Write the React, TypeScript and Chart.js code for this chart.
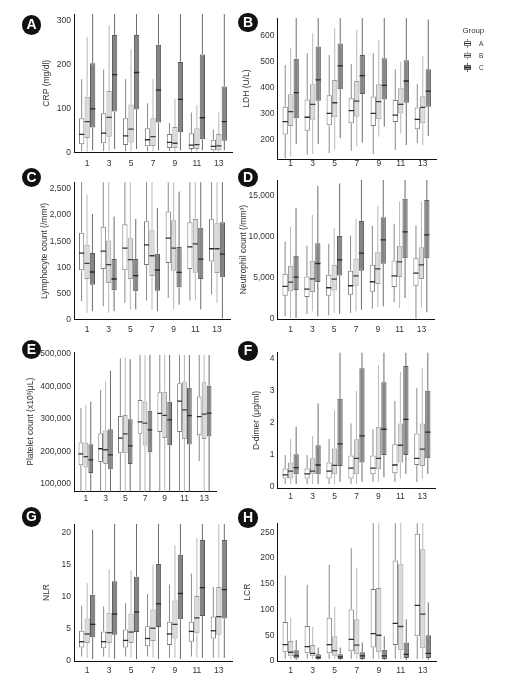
import React, { useEffect, useRef } from 'react';
import { Chart, registerables } from 'chart.js';

Chart.register(...registerables);

const FONT = "'Liberation Sans', Arial, Helvetica, sans-serif";
const FS = 8.5;

const days = ['1', '3', '5', '7', '9', '11', '13'];
const groupNames = ['A', 'B', 'C'];

// each entry: [lower whisker, Q1, median, Q3, upper whisker]
const crpA = [[3, 19, 41, 78, 167], [3, 21, 44, 89, 189], [3, 17, 38, 78, 167], [3, 14, 29, 55, 112], [3, 10, 23, 42, 67], [2, 8, 17, 44, 91], [2, 5, 14, 29, 52]];
const crpB = [[2, 33, 70, 127, 263], [3, 36, 80, 140, 289], [3, 23, 53, 109, 235], [3, 15, 36, 78, 167], [2, 10, 21, 58, 123], [2, 8, 18, 55, 108], [2, 5, 15, 42, 91]];
const crpC = [[5, 57, 99, 203, 340], [8, 93, 177, 267, 340], [8, 98, 182, 267, 340], [5, 68, 142, 245, 340], [5, 46, 121, 206, 340], [5, 30, 79, 223, 340], [5, 27, 70, 150, 340]];

const ldhA = [[127, 219, 268, 326, 487], [140, 233, 285, 354, 532], [146, 254, 300, 370, 525], [156, 262, 311, 358, 491], [143, 251, 300, 365, 532], [159, 267, 293, 352, 470], [185, 239, 277, 323, 413]];
const ldhB = [[133, 251, 307, 374, 551], [143, 275, 335, 412, 609], [161, 285, 341, 429, 628], [172, 287, 347, 425, 622], [210, 277, 345, 412, 583], [223, 300, 335, 397, 500], [178, 262, 323, 366, 523]];
const ldhC = [[182, 281, 380, 511, 690], [182, 349, 429, 558, 690], [204, 393, 483, 570, 690], [187, 375, 446, 525, 690], [249, 354, 408, 513, 690], [178, 341, 425, 505, 690], [213, 326, 386, 470, 663]];

const lymA = [[350, 941, 1272, 1660, 2700], [254, 967, 1310, 1775, 2700], [318, 941, 1368, 1826, 2700], [363, 1043, 1431, 1883, 2700], [413, 1081, 1558, 2067, 2700], [363, 967, 1393, 1864, 2700], [477, 1113, 1355, 1921, 2700]];
const lymB = [[127, 776, 1075, 1431, 2398], [127, 700, 1050, 1514, 2700], [191, 776, 1145, 1558, 2700], [191, 833, 1221, 1711, 2700], [191, 935, 1368, 1902, 2700], [363, 897, 1450, 1927, 2700], [318, 890, 1355, 1845, 2700]];
const lymC = [[159, 668, 910, 1272, 2023], [159, 560, 776, 1158, 1972], [191, 541, 840, 1158, 1927], [159, 553, 948, 1260, 2131], [286, 617, 903, 1387, 2449], [191, 776, 1158, 1756, 2700], [19, 808, 1253, 1864, 2700]];

const neuA = [[324, 2838, 3973, 5514, 9446], [608, 2676, 3649, 5189, 8919], [446, 2838, 3811, 5392, 9162], [730, 2959, 4054, 5878, 10176], [1257, 3324, 4540, 6608, 11351], [2027, 3892, 5270, 7135, 11595], [40, 4054, 5595, 7419, 11392]];
const neuB = [[122, 3365, 4500, 6486, 11230], [932, 3284, 4905, 7095, 12690], [730, 3486, 4865, 6608, 11068], [932, 4054, 5270, 7378, 12203], [1459, 4257, 6122, 8149, 13784], [1338, 5108, 6973, 8919, 14311], [1338, 4865, 6608, 8757, 14311]];
const neuC = [[122, 3527, 5108, 7703, 13500], [324, 4500, 6770, 9243, 16216], [608, 5311, 7216, 10135, 16540], [1135, 5878, 8027, 11960, 18000], [1540, 6730, 9649, 12405, 18000], [2554, 7419, 10622, 14676, 18000], [811, 7419, 10257, 14514, 18000]];

const pltA = [[60000, 157000, 192000, 227000, 333000], [60000, 167000, 208000, 256000, 389000], [60000, 194000, 241000, 309000, 487000], [60000, 254000, 291000, 358000, 497000], [60000, 260000, 317000, 382000, 497000], [60000, 260000, 355000, 410000, 497000], [170000, 250000, 307000, 369000, 497000]];
const pltB = [[60000, 150000, 184000, 227000, 343000], [60000, 161000, 205000, 264000, 415000], [60000, 194000, 254000, 312000, 489000], [60000, 218000, 287000, 354000, 497000], [60000, 241000, 311000, 384000, 497000], [60000, 238000, 328000, 415000, 497000], [60000, 238000, 315000, 413000, 497000]];
const pltC = [[60000, 133000, 174000, 222000, 353000], [60000, 145000, 189000, 268000, 448000], [60000, 161000, 217000, 299000, 484000], [60000, 197000, 266000, 325000, 497000], [60000, 219000, 297000, 353000, 497000], [60000, 221000, 310000, 396000, 497000], [60000, 246000, 318000, 402000, 497000]];

const ddA = [[0.08, 0.26, 0.37, 0.57, 0.99], [0.08, 0.26, 0.4, 0.57, 0.99], [0.08, 0.26, 0.49, 0.76, 1.5], [0.08, 0.26, 0.58, 0.98, 1.98], [0.15, 0.39, 0.58, 0.98, 1.8], [0.15, 0.42, 0.68, 1.33, 2.69], [0.15, 0.68, 0.89, 1.67, 3.1]];
const ddB = [[0.08, 0.26, 0.49, 0.76, 1.5], [0.08, 0.39, 0.49, 0.89, 1.59], [0.08, 0.39, 0.67, 1.2, 2.4], [0.08, 0.39, 0.89, 1.49, 3.0], [0.15, 0.55, 0.89, 1.88, 3.81], [0.25, 0.76, 1.3, 1.98, 3.6], [0.25, 0.65, 1.18, 1.98, 3.71]];
const ddC = [[0.08, 0.39, 0.6, 1.02, 1.88], [0.08, 0.39, 0.68, 1.3, 2.61], [0.15, 0.65, 1.34, 2.76, 4.5], [0.15, 0.76, 1.59, 3.71, 4.5], [0.3, 0.99, 1.8, 3.27, 4.5], [0.4, 0.99, 2.11, 3.78, 4.5], [0.4, 0.89, 1.71, 3.01, 4.5]];

const nlrA = [[0.7, 2.1, 3.0, 4.7, 8.6], [0.7, 2.0, 3.0, 4.6, 8.5], [0.7, 2.1, 3.2, 4.9, 9.0], [0.7, 2.3, 3.5, 5.4, 10.4], [0.5, 2.5, 4.2, 6.1, 11.9], [0.7, 3.0, 4.6, 6.1, 13.6], [0.5, 3.5, 4.7, 6.9, 11.5]];
const nlrB = [[0.5, 2.8, 4.2, 6.6, 12.1], [0.5, 2.8, 4.4, 7.5, 14.3], [0.5, 2.8, 4.5, 7.4, 14.1], [0.5, 3.1, 5.1, 8.0, 15.0], [0.5, 3.5, 5.7, 9.4, 18.0], [0.5, 4.3, 6.7, 10.1, 19.1], [0.5, 4.1, 6.9, 11.5, 22]];
const nlrC = [[0.3, 3.7, 5.7, 10.3, 20.4], [0.3, 4.1, 7.3, 12.4, 22], [0.3, 4.5, 7.6, 13.1, 22], [0.3, 5.3, 8.9, 15.1, 22], [0.3, 6.5, 10.5, 16.5, 22], [0.5, 7.0, 11.4, 18.8, 22], [0.5, 6.6, 11.1, 18.8, 22]];

const lcrA = [[4, 17, 32, 76, 166], [4, 15, 28, 68, 148], [4, 15, 32, 84, 187], [4, 19, 42, 100, 219], [4, 26, 53, 140, 280], [4, 31, 73, 195, 280], [4, 48, 108, 247, 280]];
const lcrB = [[4, 9, 17, 39, 84], [4, 9, 15, 31, 66], [4, 10, 20, 48, 105], [4, 13, 31, 81, 181], [4, 17, 50, 142, 280], [4, 21, 67, 188, 280], [4, 25, 91, 217, 280]];
const lcrC = [[2, 5, 10, 21, 41], [2, 4, 7, 13, 26], [2, 4, 8, 13, 26], [2, 4, 10, 17, 36], [2, 4, 10, 22, 48], [2, 6, 13, 36, 81], [2, 6, 15, 50, 114]];

const crpTicks = [0, 100, 200, 300];
const crpTickLabels = ['0', '100', '200', '300'];
const ldhTicks = [200, 300, 400, 500, 600];
const ldhTickLabels = ['200', '300', '400', '500', '600'];
const lymTicks = [0, 500, 1000, 1500, 2000, 2500];
const lymTickLabels = ['0', '500', '100', '1,500', '2,000', '2,500'];
const neuTicks = [0, 5000, 10000, 15000];
const neuTickLabels = ['0', '5,000', '10,000', '15,000'];
const pltTicks = [100000, 200000, 300000, 400000, 500000];
const pltTickLabels = ['100,000', '200,000', '300,000', '400,000', '500,000'];
const ddTicks = [0, 1, 2, 3, 4];
const ddTickLabels = ['0', '1', '2', '3', '4'];
const nlrTicks = [0, 5, 10, 15, 20];
const nlrTickLabels = ['0', '5', '10', '15', '20'];
const lcrTicks = [0, 50, 100, 150, 200, 250];
const lcrTickLabels = ['0', '50', '100', '150', '200', '250'];

const boxFill = ['#ffffff', '#dadada', '#858585'];
const boxLine = ['#7a7a7a', '#9a9a9a', '#5a5a5a'];
const whiskerColor = ['#8a8a8a', '#b8b8b8', '#6c6c6c'];
const medianColor = ['#2a2a2a', '#3a3a3a', '#262626'];

type Panel = {
  badge: string; title: string;
  cx: number; cy: number; cw: number;
  left: number; right: number; top: number; bottom: number;
  yMin: number; yMax: number; yTicks: number[]; yTickLabels: string[];
  titleX: number; xPad: number; bx: number; by: number;
  series: number[][][];
};

const panels: Panel[] = [
  { badge: 'A', title: 'CRP (mg/dl)', cx: 0, cy: 0, cw: 236, left: 74, right: 232, top: 14, bottom: 152.5, yMin: 0, yMax: 315, yTicks: crpTicks, yTickLabels: crpTickLabels, titleX: 47, xPad: 5.7, bx: 31.5, by: 25, series: [crpA, crpB, crpC] },
  { badge: 'B', title: 'LDH (U/L)', cx: 236, cy: 0, cw: 276, left: 277.5, right: 436, top: 18, bottom: 159, yMin: 124, yMax: 668, yTicks: ldhTicks, yTickLabels: ldhTickLabels, titleX: 247, xPad: 0, bx: 248, by: 22.5, series: [ldhA, ldhB, ldhC] },
  { badge: 'C', title: 'Lymphocyte count (/mm³)', cx: 0, cy: 168, cw: 236, left: 74, right: 230, top: 182.3, bottom: 319.5, yMin: 0, yMax: 2628, yTicks: lymTicks, yTickLabels: lymTickLabels, titleX: 45, xPad: 4.7, bx: 31.5, by: 177.5, series: [lymA, lymB, lymC] },
  { badge: 'D', title: 'Neutrophil count (/mm³)', cx: 236, cy: 168, cw: 276, left: 277.5, right: 434.5, top: 180, bottom: 319, yMin: 0, yMax: 16950, yTicks: neuTicks, yTickLabels: neuTickLabels, titleX: 243.5, xPad: 5.9, bx: 248, by: 177.5, series: [neuA, neuB, neuC] },
  { badge: 'E', title: 'Platelet count (x10³/μL)', cx: 0, cy: 336, cw: 236, left: 74, right: 216, top: 352, bottom: 491.5, yMin: 76300, yMax: 506150, yTicks: pltTicks, yTickLabels: pltTickLabels, titleX: 30.3, xPad: 2, bx: 31.5, by: 349.5, series: [pltA, pltB, pltC] },
  { badge: 'F', title: 'D-dimer (μg/ml)', cx: 236, cy: 336, cw: 276, left: 277.5, right: 435.5, top: 352.7, bottom: 488.3, yMin: -0.05, yMax: 4.2, yTicks: ddTicks, yTickLabels: ddTickLabels, titleX: 256.7, xPad: 3.3, bx: 248, by: 351, series: [ddA, ddB, ddC] },
  { badge: 'G', title: 'NLR', cx: 0, cy: 505, cw: 236, left: 74, right: 232, top: 524, bottom: 661, yMin: 0, yMax: 21.3, yTicks: nlrTicks, yTickLabels: nlrTickLabels, titleX: 47, xPad: 4.6, bx: 31.5, by: 517, series: [nlrA, nlrB, nlrC] },
  { badge: 'H', title: 'LCR', cx: 236, cy: 505, cw: 276, left: 277.5, right: 436, top: 523.3, bottom: 661, yMin: 0, yMax: 267.5, yTicks: lcrTicks, yTickLabels: lcrTickLabels, titleX: 248, xPad: 4.6, bx: 248, by: 518, series: [lcrA, lcrB, lcrC] },
];

function drawParts(chart: any, part: 'whisker' | 'median') {
  const { ctx, chartArea: a, scales } = chart;
  const y = scales.y;
  ctx.save();
  ctx.beginPath();
  ctx.rect(a.left, a.top, a.right - a.left, a.bottom - a.top);
  ctx.clip();
  chart.data.datasets.forEach((ds: any, di: number) => {
    const meta = chart.getDatasetMeta(di);
    meta.data.forEach((el: any, j: number) => {
      const s = ds.stats[j];
      const { x, width } = el.getProps(['x', 'width'], true);
      ctx.beginPath();
      if (part === 'whisker') {
        ctx.strokeStyle = whiskerColor[di];
        ctx.lineWidth = 1;
        ctx.moveTo(x, y.getPixelForValue(s[4]));
        ctx.lineTo(x, y.getPixelForValue(s[3]));
        ctx.moveTo(x, y.getPixelForValue(s[1]));
        ctx.lineTo(x, y.getPixelForValue(s[0]));
      } else {
        ctx.strokeStyle = medianColor[di];
        ctx.lineWidth = 1.3;
        const ym = y.getPixelForValue(s[2]);
        ctx.moveTo(x - width / 2, ym);
        ctx.lineTo(x + width / 2, ym);
      }
      ctx.stroke();
    });
  });
  ctx.restore();
}

const boxPlotPlugin = {
  id: 'boxPlotParts',
  beforeDatasetsDraw(chart: any) { drawParts(chart, 'whisker'); },
  afterDatasetsDraw(chart: any) { drawParts(chart, 'median'); },
};

function BoxPanel({ p }: { p: Panel }) {
  const ref = useRef<HTMLCanvasElement>(null);
  const ch = Math.ceil(p.bottom - p.cy + 22);
  useEffect(() => {
    const xAxisH = ch - (p.bottom - p.cy);
    const halfLine = (FS * 1.2) / 2;
    const chart = new Chart(ref.current as HTMLCanvasElement, {
      type: 'bar',
      data: {
        datasets: p.series.map((s, gi) => ({
          label: groupNames[gi],
          data: s.map((v, i) => ({ x: i + 1, y: [v[1], v[3]] })),
          stats: s,
          backgroundColor: boxFill[gi],
          borderColor: boxLine[gi],
          borderWidth: 1,
          borderSkipped: false,
          categoryPercentage: 0.75,
          barPercentage: 0.96,
        })) as any,
      },
      options: {
        responsive: false,
        animation: false,
        events: [],
        layout: { padding: { top: p.top - p.cy, right: p.cx + p.cw - p.right, left: 0, bottom: 0 } },
        plugins: { legend: { display: false }, tooltip: { enabled: false } },
        scales: {
          x: {
            type: 'linear', min: 0.4, max: 7.6, offset: false,
            grid: { display: false, drawTicks: false },
            border: { display: true, color: '#111', width: 1 },
            afterBuildTicks: (s: any) => { s.ticks = days.map((_, i) => ({ value: i + 1 })); },
            afterFit: (s: any) => { s.height = xAxisH; },
            ticks: {
              autoSkip: false, maxRotation: 0, minRotation: 0, padding: p.xPad, color: '#333',
              font: { family: FONT, size: FS },
              callback: (_v: any, i: number) => days[i],
            },
          },
          y: {
            type: 'linear', min: p.yMin, max: p.yMax,
            grid: { display: false, drawTicks: false },
            border: { display: true, color: '#111', width: 1 },
            afterBuildTicks: (s: any) => { s.ticks = p.yTicks.map((v) => ({ value: v })); },
            afterFit: (s: any) => { s.width = p.left - p.cx; },
            ticks: {
              autoSkip: false, padding: 3, color: '#333',
              font: { family: FONT, size: FS },
              callback: (_v: any, i: number) => p.yTickLabels[i],
            },
            title: {
              display: true, text: p.title, color: '#333',
              font: { family: FONT, size: FS },
              padding: { top: p.titleX - p.cx - halfLine, bottom: 0 },
            },
          },
        },
      } as any,
      plugins: [boxPlotPlugin],
    });
    return () => chart.destroy();
  }, [p, ch]);
  return (
    <canvas
      ref={ref}
      width={p.cw}
      height={ch}
      style={{ position: 'absolute', left: p.cx, top: p.cy, width: p.cw, height: ch }}
    />
  );
}

function Badge({ p }: { p: Panel }) {
  return (
    <div
      style={{
        position: 'absolute', left: p.bx - 9.75, top: p.by - 9.75, width: 19.5, height: 19.5,
        borderRadius: '50%', background: '#111', color: '#fff',
        fontFamily: "'Liberation Sans', Arial, sans-serif", fontWeight: 900, fontSize: 14,
        display: 'flex', alignItems: 'center', justifyContent: 'center', lineHeight: '19.5px',
        zIndex: 2,
      }}
    >
      {p.badge}
    </div>
  );
}

const legendRows = [43.5, 55.5, 67.5];

function Legend() {
  return (
    <div style={{ position: 'absolute', left: 0, top: 0, zIndex: 2 }}>
      <div style={{ position: 'absolute', left: 462.5, top: 25.5, fontSize: 7.8, color: '#333', whiteSpace: 'nowrap', lineHeight: '9px' }}>Group</div>
      {groupNames.map((g, i) => (
        <React.Fragment key={g}>
          <div style={{ position: 'absolute', left: 463.5, top: legendRows[i] - 4.5, width: 7, height: 9 }}>
            <div style={{ position: 'absolute', left: 3, top: 0, width: 1, height: 9, background: whiskerColor[i] }} />
            <div style={{ position: 'absolute', left: 0, top: 1.75, width: 7, height: 5.5, boxSizing: 'border-box', border: `1px solid ${boxLine[i]}`, background: boxFill[i] }} />
            <div style={{ position: 'absolute', left: 0, top: 4, width: 7, height: 1, background: medianColor[i] }} />
          </div>
          <div style={{ position: 'absolute', left: 479, top: legendRows[i] - 4, fontSize: 6.5, color: '#333', lineHeight: '8px' }}>{g}</div>
        </React.Fragment>
      ))}
    </div>
  );
}

export default function App() {
  return (
    <div
      style={{
        position: 'absolute', left: 0, top: 0, width: 512, height: 690, overflow: 'hidden',
        background: '#fff', fontFamily: FONT,
      }}
    >
      {panels.map((p) => <BoxPanel key={p.badge} p={p} />)}
      {panels.map((p) => <Badge key={'b' + p.badge} p={p} />)}
      <Legend />
    </div>
  );
}
